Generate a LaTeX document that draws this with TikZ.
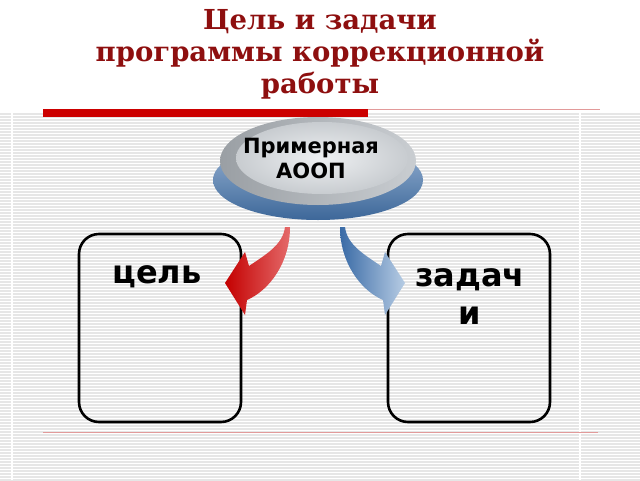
\documentclass[tikz,border=0pt]{standalone}
\usepackage{fontspec}
\setmainfont{DejaVu Sans}
\newfontfamily\titlefont{DejaVu Serif}
\usetikzlibrary{shapes.geometric}
\definecolor{titlered}{HTML}{8E0F0F}
\definecolor{barred}{HTML}{CC0000}
\definecolor{thinred}{HTML}{E29A9A}
\definecolor{stripegray}{HTML}{E6E6E6}
\definecolor{basedark}{HTML}{3D6799}
\definecolor{baselight}{HTML}{9BB6D6}
\definecolor{rimdark}{HTML}{9A9FA4}
\definecolor{rimlight}{HTML}{C9CDD1}
\definecolor{faceinner}{HTML}{EEF0F2}
\definecolor{faceouter}{HTML}{C8CCD0}
\definecolor{reddark}{HTML}{C40000}
\definecolor{redlight}{HTML}{E46A6A}
\definecolor{bluedark}{HTML}{3A6BA6}
\definecolor{bluelight}{HTML}{B7CCE4}
\tikzset{
  stripe/.style={stripegray, line width=1.4pt},
  titletext/.style={text=titlered, font=\titlefont\bfseries\fontsize{27.5}{32}\selectfont, align=center, inner sep=0pt},
  btntext/.style={font=\bfseries\fontsize{21}{25}\selectfont, align=center, inner sep=0pt},
  boxtext/.style={font=\bfseries\fontsize{32}{38}\selectfont, align=center, inner sep=0pt},
  roundbox/.style={draw=black, line width=2.6pt, rounded corners=20pt, minimum width=162pt, minimum height=188pt, inner sep=0pt},
  thinline/.style={thinred, line width=1pt}
}
\begin{document}
\begin{tikzpicture}[x=1pt,y=-1pt]
\useasboundingbox (0,0) rectangle (640,480);
\fill[white] (0,0) rectangle (640,480);
% striped background
\foreach \y in {114,117,...,480} \draw[stripe] (0,\y) -- (640,\y);
\draw[white, line width=1.5pt] (12,113) -- (12,480);
\draw[white, line width=1.5pt] (580,113) -- (580,480);
% title
\node[titletext] (title) at (320,54) {Цель и задачи\\программы коррекционной\\работы};
% bars
\fill[barred] (43,109) rectangle (368,117);
\coordinate (barend) at (368,109.5);
\coordinate (barfar) at (600,109.5);
\draw[thinline] (barend) -- (barfar);
\coordinate (footl) at (43,432);
\coordinate (footr) at (598,432);
\draw[thinline] (footl) -- (footr);
% button
\node[ellipse, minimum width=210pt, minimum height=80pt, top color=baselight, bottom color=basedark] (btnbase) at (318,180) {};
\node[ellipse, minimum width=196pt, minimum height=88pt, left color=rimdark, right color=rimlight] (btnrim) at (318,161) {};
\node[ellipse, minimum width=172pt, minimum height=72pt, inner color=faceinner, outer color=faceouter] (btnface) at (322,158) {};
\node[btntext] (btnlabel) at (311,158) {Примерная\\АООП};
% boxes
\node[roundbox] (goal) at (160,328) {};
\node[roundbox] (tasks) at (469,328) {};
\node[boxtext, anchor=base] (goaltext) at (157,283) {цель};
\node[boxtext] (taskstext) at (470,297) {задач\\и};
% red curved arrow
\shade[left color=reddark, right color=redlight]
  (225,283) -- (245,252) -- (249,266)
  .. controls (265,255) and (283,245) .. (285,227)
  -- (290,227)
  .. controls (290,262) and (270,290) .. (247,300)
  -- (245,315) -- cycle;
% blue curved arrow
\shade[left color=bluedark, right color=bluelight]
  (405,283) -- (385,252) -- (381,266)
  .. controls (365,255) and (347,245) .. (345,227)
  -- (340,227)
  .. controls (340,262) and (360,290) .. (383,300)
  -- (385,315) -- cycle;
\end{tikzpicture}
\end{document}
